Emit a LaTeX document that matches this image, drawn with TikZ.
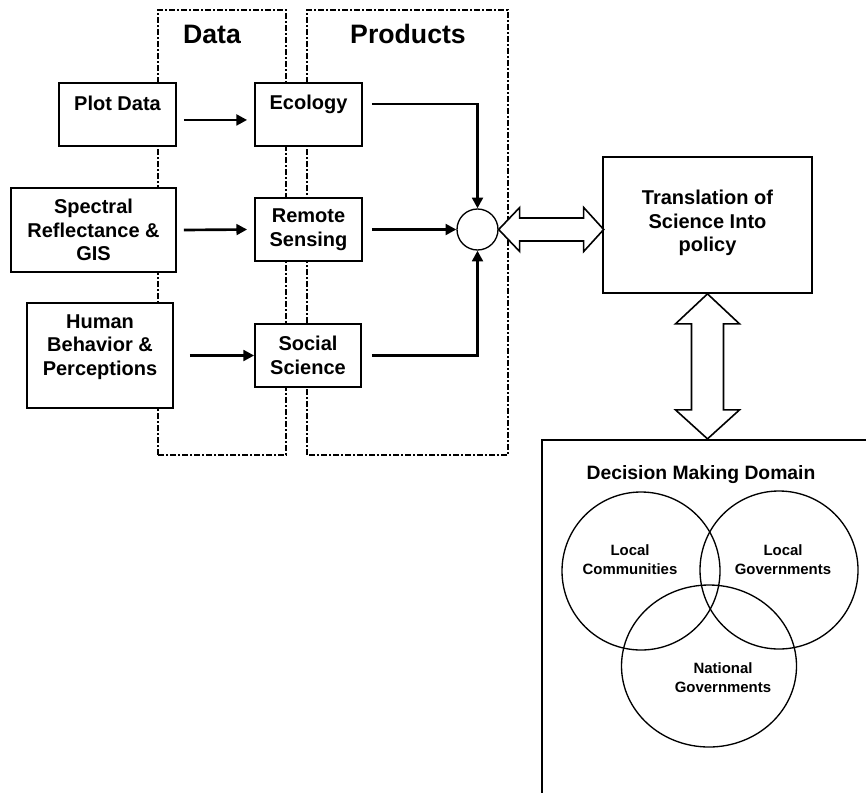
\documentclass[tikz,border=0pt]{standalone}
\usepackage{fontspec}
\setmainfont{Liberation Sans}
\usetikzlibrary{arrows.meta,shapes.geometric}
\begin{document}
\begin{tikzpicture}[x=0.75pt,y=-0.75pt,
  boxnode/.style={draw,line width=1.3pt,fill=white,inner sep=0pt},
  boxtext/.style={align=center,font=\bfseries\fontsize{15}{17.8}\selectfont,inner sep=0pt},
  grouptitle/.style={font=\bfseries\fontsize{20}{24}\selectfont,inner sep=0pt},
  groupbox/.style={line width=1.8pt,dash pattern=on 4.5pt off 1.5pt on 1.5pt off 1.5pt},
  arr/.style={line width=2pt,-{Triangle[length=8pt,width=8pt]}},
  venn/.style={draw,line width=1pt,inner sep=0pt},
  venntext/.style={align=center,font=\bfseries\fontsize{11.2}{14.2}\selectfont,inner sep=0pt},
  dbl/.style={draw,line width=1.2pt,fill=white,line join=miter}]
\clip (0,0) rectangle (866,792);
\fill[white] (0,0) rectangle (866,792);
% group boxes
\draw[groupbox] (158,455) -- (158,10) -- (286,10) -- (286,455) -- cycle;
\draw[groupbox] (307,455) -- (307,10) -- (508,10) -- (508,455) -- cycle;
\node[grouptitle] (datat) at (212,34) {Data};
\node[grouptitle] (prodt) at (408,34) {Products};
% boxes
\node[boxnode,minimum width=87.75pt,minimum height=47.25pt] (plot) at (117.5,114.5) {};
\node[boxtext] (plotT) at (117.5,103) {Plot Data};
\node[boxnode,minimum width=80.25pt,minimum height=47.25pt] (eco) at (308.5,114.5) {};
\node[boxtext] (ecoT) at (308.5,104) {Ecology};
\node[boxnode,minimum width=123.75pt,minimum height=63pt,boxtext] (spec) at (93.5,230) {Spectral\\Reflectance \&\\GIS};
\node[boxnode,minimum width=80.25pt,minimum height=47.25pt,boxtext] (rem) at (308.5,229.5) {Remote\\Sensing};
\node[boxnode,minimum width=109.5pt,minimum height=78.75pt] (hum) at (100,355.5) {};
\node[boxtext] (humT) at (100,347) {Human\\Behavior \&\\Perceptions};
\node[boxnode,minimum width=79.5pt,minimum height=47.25pt,boxtext] (soc) at (308,355.5) {Social\\Science};
\node[draw,circle,line width=1pt,minimum size=30.75pt,inner sep=0pt,fill=white] (circ) at (477.5,229.5) {};
\node[boxnode,minimum width=156.75pt,minimum height=102pt] (trans) at (707.5,225) {};
\node[boxtext] (transT) at (707.5,223) {Translation of\\Science Into\\policy};
% connectors
\draw[arr] ([xshift=5.25pt,yshift=-4.1pt]plot.east) -- ([xshift=-5.25pt,yshift=-4.1pt]eco.west);
\draw[arr] ([xshift=5.25pt]spec.east) -- ([xshift=-5.25pt]rem.west);
\draw[arr] ([xshift=12pt]hum.east) -- (soc.west);
\draw[arr] ([xshift=6.75pt,yshift=7.9pt]eco.east) -| (circ.north);
\draw[arr] ([xshift=6.75pt]rem.east) -- (circ.west);
\draw[arr] ([xshift=7.5pt]soc.east) -| (circ.south);
% double arrows
\draw[dbl] (circ.east) -- ++(21,-22) -- ++(0,10.5) -- ++(64,0) -- ++(0,-10.5)
  -- ++(20,22) -- ++(-20,22) -- ++(0,-10.5) -- ++(-64,0) -- ++(0,10.5) -- cycle;
\draw[dbl] (trans.south) -- ++(-32,30) -- ++(16,0) -- ++(0,86) -- ++(-16,0)
  -- ++(32,29) -- ++(32,-29) -- ++(-16,0) -- ++(0,-86) -- ++(16,0) -- cycle;
% decision domain
\node[draw,line width=1.3pt,minimum width=300pt,minimum height=300pt,anchor=north west,inner sep=0pt] (dec) at (541,439) {};
\node[font=\bfseries\fontsize{14.5}{17}\selectfont,inner sep=0pt] (decT) at (701,475) {Decision Making Domain};
\node[venn,circle,minimum size=118.5pt] (lc) at (641,571) {};
\node[venn,circle,minimum size=118.5pt] (lg) at (779,570) {};
\node[venn,ellipse,minimum width=131.25pt,minimum height=121.5pt] (ng) at (709,666) {};
\node[venntext] (lcT) at (630,559.5) {Local\\Communities};
\node[venntext] (lgT) at (783,559.5) {Local\\Governments};
\node[venntext] (ngT) at (723,677.5) {National\\Governments};
\end{tikzpicture}
\end{document}
